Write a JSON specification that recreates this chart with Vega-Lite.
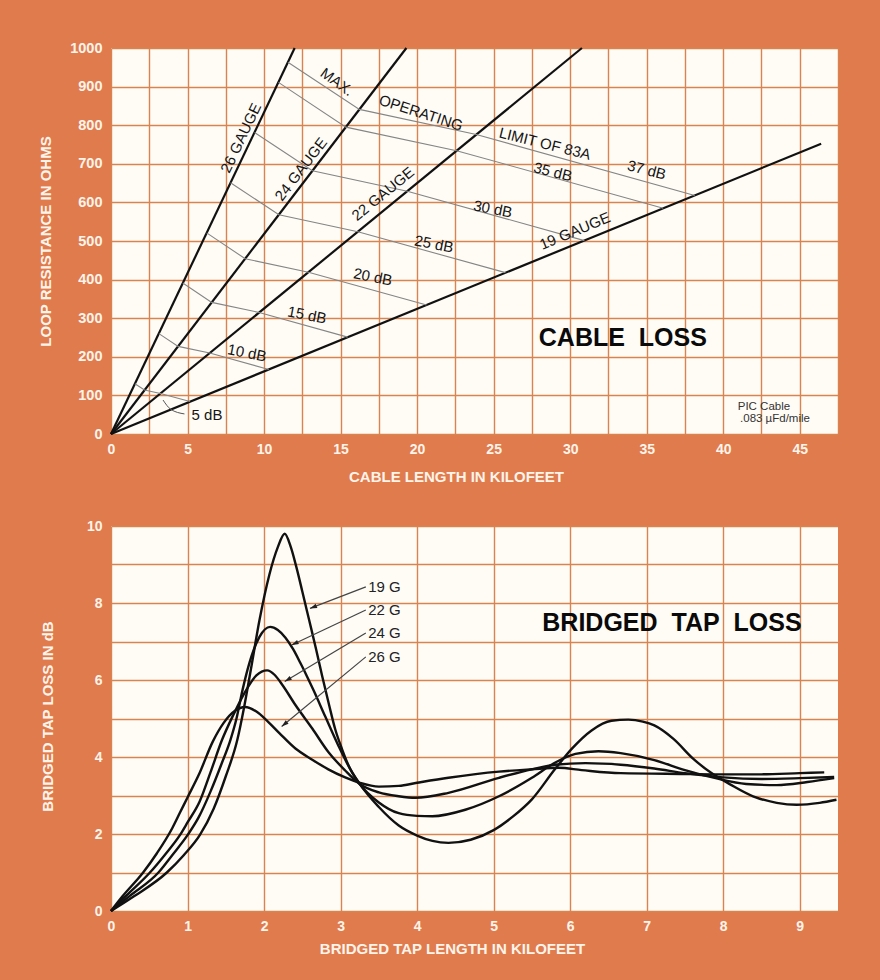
{
  "$schema": "https://vega.github.io/schema/vega-lite/v6.json",
  "background": "#DF7B4D",
  "padding": {"left": 38, "top": 40, "right": 42, "bottom": 24},
  "spacing": 35,
  "config": {
    "view": {"fill": "#FFFCF6", "stroke": null},
    "axis": {
      "grid": true, "gridColor": "#D9834F", "gridWidth": 1.4, "gridOpacity": 1,
      "domain": false, "ticks": false, "tickSize": 0,
      "labelColor": "#FFF4EA", "labelFont": "Liberation Sans", "labelFontWeight": "bold", "labelFontSize": 14,
      "titleColor": "#FFF4EA", "titleFont": "Liberation Sans", "titleFontWeight": "bold", "titleFontSize": 15,
      "labelFlush": false, "labelSeparation": 0, "labelOverlap": false
    },
    "axisY": {"labelOverlap": false},
    "axisQuantitative": {"labelOverlap": false},
    "text": {"font": "Liberation Sans", "color": "#151515"}
  },
  "datasets": {
    "gauges": [
      {"gauge": "26", "kft": 0, "ohms": 0}, {"gauge": "26", "kft": 12.0, "ohms": 1000},
      {"gauge": "24", "kft": 0, "ohms": 0}, {"gauge": "24", "kft": 19.3, "ohms": 1000},
      {"gauge": "22", "kft": 0, "ohms": 0}, {"gauge": "22", "kft": 30.77, "ohms": 1000},
      {"gauge": "19", "kft": 0, "ohms": 0}, {"gauge": "19", "kft": 46.4, "ohms": 752}
    ],
    "contours": [
      {"dB": 5, "kft": 1.56, "ohms": 130}, {"dB": 5, "kft": 2.19, "ohms": 114}, {"dB": 5, "kft": 3.23, "ohms": 105}, {"dB": 5, "kft": 5.16, "ohms": 84},
      {"dB": 10, "kft": 3.13, "ohms": 260}, {"dB": 10, "kft": 4.39, "ohms": 227}, {"dB": 10, "kft": 6.45, "ohms": 210}, {"dB": 10, "kft": 10.31, "ohms": 167},
      {"dB": 15, "kft": 4.69, "ohms": 391}, {"dB": 15, "kft": 6.58, "ohms": 341}, {"dB": 15, "kft": 9.68, "ohms": 315}, {"dB": 15, "kft": 15.46, "ohms": 251},
      {"dB": 20, "kft": 6.25, "ohms": 521}, {"dB": 20, "kft": 8.77, "ohms": 454}, {"dB": 20, "kft": 12.9, "ohms": 419}, {"dB": 20, "kft": 20.62, "ohms": 334},
      {"dB": 25, "kft": 7.81, "ohms": 651}, {"dB": 25, "kft": 10.97, "ohms": 568}, {"dB": 25, "kft": 16.13, "ohms": 524}, {"dB": 25, "kft": 25.77, "ohms": 418},
      {"dB": 30, "kft": 9.38, "ohms": 781}, {"dB": 30, "kft": 13.16, "ohms": 682}, {"dB": 30, "kft": 19.36, "ohms": 629}, {"dB": 30, "kft": 30.93, "ohms": 501},
      {"dB": 35, "kft": 10.94, "ohms": 911}, {"dB": 35, "kft": 15.35, "ohms": 795}, {"dB": 35, "kft": 22.58, "ohms": 734}, {"dB": 35, "kft": 36.08, "ohms": 585},
      {"dB": 37, "kft": 11.56, "ohms": 963}, {"dB": 37, "kft": 16.23, "ohms": 841}, {"dB": 37, "kft": 23.87, "ohms": 776}, {"dB": 37, "kft": 38.14, "ohms": 618}
    ],
    "leader": [
      {"kft": 3.4, "ohms": 88}, {"kft": 3.9, "ohms": 64}, {"kft": 4.8, "ohms": 52}
    ],
    "toplabels": [
      {"label": "26 GAUGE", "kft": 8.49, "ohms": 767},
      {"label": "24 GAUGE", "kft": 12.41, "ohms": 686},
      {"label": "22 GAUGE", "kft": 17.77, "ohms": 622},
      {"label": "19 GAUGE", "kft": 30.31, "ohms": 526},
      {"label": "MAX.", "kft": 14.76, "ohms": 912},
      {"label": "OPERATING", "kft": 20.25, "ohms": 832},
      {"label": "LIMIT OF 83A", "kft": 28.35, "ohms": 752},
      {"label": "37 dB", "kft": 35.0, "ohms": 684},
      {"label": "35 dB", "kft": 28.87, "ohms": 679},
      {"label": "30 dB", "kft": 24.95, "ohms": 583},
      {"label": "25 dB", "kft": 21.1, "ohms": 492},
      {"label": "20 dB", "kft": 17.11, "ohms": 407},
      {"label": "15 dB", "kft": 12.8, "ohms": 308},
      {"label": "10 dB", "kft": 8.88, "ohms": 210},
      {"label": "5 dB", "kft": 6.27, "ohms": 49}
    ],
    "topnotes": [
      {"label": "PIC Cable", "kft": 40.95, "ohms": 70},
      {"label": ".083 µFd/mile", "kft": 41.1, "ohms": 39}
    ],
    "toptitle": [{"label": "CABLE\u00a0\u00a0LOSS", "kft": 33.44, "ohms": 249}],
    "taps": [
      {"gauge": "19 G", "kft": 0, "dB": 0}, {"gauge": "19 G", "kft": 0.3, "dB": 0.38}, {"gauge": "19 G", "kft": 0.73, "dB": 1.0}, {"gauge": "19 G", "kft": 0.95, "dB": 1.45}, {"gauge": "19 G", "kft": 1.16, "dB": 1.97}, {"gauge": "19 G", "kft": 1.34, "dB": 2.65}, {"gauge": "19 G", "kft": 1.5, "dB": 3.5}, {"gauge": "19 G", "kft": 1.65, "dB": 4.44}, {"gauge": "19 G", "kft": 1.74, "dB": 5.3}, {"gauge": "19 G", "kft": 1.83, "dB": 6.3}, {"gauge": "19 G", "kft": 1.94, "dB": 7.55}, {"gauge": "19 G", "kft": 2.07, "dB": 8.74}, {"gauge": "19 G", "kft": 2.18, "dB": 9.45}, {"gauge": "19 G", "kft": 2.27, "dB": 9.8}, {"gauge": "19 G", "kft": 2.35, "dB": 9.45}, {"gauge": "19 G", "kft": 2.42, "dB": 8.95}, {"gauge": "19 G", "kft": 2.5, "dB": 8.3}, {"gauge": "19 G", "kft": 2.59, "dB": 7.55}, {"gauge": "19 G", "kft": 2.68, "dB": 6.8}, {"gauge": "19 G", "kft": 2.76, "dB": 6.1}, {"gauge": "19 G", "kft": 2.85, "dB": 5.35}, {"gauge": "19 G", "kft": 2.93, "dB": 4.72}, {"gauge": "19 G", "kft": 3.02, "dB": 4.2}, {"gauge": "19 G", "kft": 3.1, "dB": 3.8}, {"gauge": "19 G", "kft": 3.25, "dB": 3.3}, {"gauge": "19 G", "kft": 3.5, "dB": 2.7}, {"gauge": "19 G", "kft": 3.76, "dB": 2.22}, {"gauge": "19 G", "kft": 4.0, "dB": 1.96}, {"gauge": "19 G", "kft": 4.2, "dB": 1.82}, {"gauge": "19 G", "kft": 4.41, "dB": 1.77}, {"gauge": "19 G", "kft": 4.7, "dB": 1.85}, {"gauge": "19 G", "kft": 5.0, "dB": 2.1}, {"gauge": "19 G", "kft": 5.25, "dB": 2.45}, {"gauge": "19 G", "kft": 5.5, "dB": 2.9}, {"gauge": "19 G", "kft": 5.8, "dB": 3.68}, {"gauge": "19 G", "kft": 6.02, "dB": 4.21}, {"gauge": "19 G", "kft": 6.28, "dB": 4.69}, {"gauge": "19 G", "kft": 6.54, "dB": 4.94}, {"gauge": "19 G", "kft": 6.76, "dB": 4.97}, {"gauge": "19 G", "kft": 6.95, "dB": 4.92}, {"gauge": "19 G", "kft": 7.1, "dB": 4.82}, {"gauge": "19 G", "kft": 7.35, "dB": 4.47}, {"gauge": "19 G", "kft": 7.61, "dB": 3.95}, {"gauge": "19 G", "kft": 7.87, "dB": 3.55}, {"gauge": "19 G", "kft": 8.09, "dB": 3.29}, {"gauge": "19 G", "kft": 8.39, "dB": 2.98}, {"gauge": "19 G", "kft": 8.7, "dB": 2.81}, {"gauge": "19 G", "kft": 8.96, "dB": 2.76}, {"gauge": "19 G", "kft": 9.26, "dB": 2.81}, {"gauge": "19 G", "kft": 9.48, "dB": 2.89},
      {"gauge": "22 G", "kft": 0, "dB": 0}, {"gauge": "22 G", "kft": 0.25, "dB": 0.4}, {"gauge": "22 G", "kft": 0.62, "dB": 1.0}, {"gauge": "22 G", "kft": 0.8, "dB": 1.45}, {"gauge": "22 G", "kft": 1.0, "dB": 1.97}, {"gauge": "22 G", "kft": 1.15, "dB": 2.45}, {"gauge": "22 G", "kft": 1.3, "dB": 3.1}, {"gauge": "22 G", "kft": 1.45, "dB": 3.85}, {"gauge": "22 G", "kft": 1.56, "dB": 4.44}, {"gauge": "22 G", "kft": 1.64, "dB": 5.0}, {"gauge": "22 G", "kft": 1.72, "dB": 5.75}, {"gauge": "22 G", "kft": 1.81, "dB": 6.45}, {"gauge": "22 G", "kft": 1.94, "dB": 7.12}, {"gauge": "22 G", "kft": 2.08, "dB": 7.38}, {"gauge": "22 G", "kft": 2.18, "dB": 7.3}, {"gauge": "22 G", "kft": 2.28, "dB": 7.1}, {"gauge": "22 G", "kft": 2.38, "dB": 6.8}, {"gauge": "22 G", "kft": 2.48, "dB": 6.42}, {"gauge": "22 G", "kft": 2.56, "dB": 6.1}, {"gauge": "22 G", "kft": 2.65, "dB": 5.72}, {"gauge": "22 G", "kft": 2.8, "dB": 5.05}, {"gauge": "22 G", "kft": 2.97, "dB": 4.3}, {"gauge": "22 G", "kft": 3.15, "dB": 3.6}, {"gauge": "22 G", "kft": 3.25, "dB": 3.3}, {"gauge": "22 G", "kft": 3.5, "dB": 2.82}, {"gauge": "22 G", "kft": 3.76, "dB": 2.54}, {"gauge": "22 G", "kft": 4.0, "dB": 2.47}, {"gauge": "22 G", "kft": 4.2, "dB": 2.46}, {"gauge": "22 G", "kft": 4.63, "dB": 2.63}, {"gauge": "22 G", "kft": 5.07, "dB": 2.98}, {"gauge": "22 G", "kft": 5.5, "dB": 3.46}, {"gauge": "22 G", "kft": 5.8, "dB": 3.85}, {"gauge": "22 G", "kft": 6.07, "dB": 4.08}, {"gauge": "22 G", "kft": 6.37, "dB": 4.15}, {"gauge": "22 G", "kft": 6.66, "dB": 4.1}, {"gauge": "22 G", "kft": 7.1, "dB": 3.92}, {"gauge": "22 G", "kft": 7.5, "dB": 3.66}, {"gauge": "22 G", "kft": 7.9, "dB": 3.45}, {"gauge": "22 G", "kft": 8.3, "dB": 3.3}, {"gauge": "22 G", "kft": 8.7, "dB": 3.27}, {"gauge": "22 G", "kft": 9.1, "dB": 3.35}, {"gauge": "22 G", "kft": 9.45, "dB": 3.45},
      {"gauge": "24 G", "kft": 0, "dB": 0}, {"gauge": "24 G", "kft": 0.2, "dB": 0.4}, {"gauge": "24 G", "kft": 0.5, "dB": 0.98}, {"gauge": "24 G", "kft": 0.7, "dB": 1.45}, {"gauge": "24 G", "kft": 0.9, "dB": 1.97}, {"gauge": "24 G", "kft": 1.0, "dB": 2.3}, {"gauge": "24 G", "kft": 1.16, "dB": 2.85}, {"gauge": "24 G", "kft": 1.3, "dB": 3.6}, {"gauge": "24 G", "kft": 1.45, "dB": 4.44}, {"gauge": "24 G", "kft": 1.6, "dB": 5.1}, {"gauge": "24 G", "kft": 1.77, "dB": 5.75}, {"gauge": "24 G", "kft": 1.9, "dB": 6.12}, {"gauge": "24 G", "kft": 2.04, "dB": 6.25}, {"gauge": "24 G", "kft": 2.14, "dB": 6.13}, {"gauge": "24 G", "kft": 2.24, "dB": 5.87}, {"gauge": "24 G", "kft": 2.41, "dB": 5.35}, {"gauge": "24 G", "kft": 2.63, "dB": 4.74}, {"gauge": "24 G", "kft": 2.84, "dB": 4.13}, {"gauge": "24 G", "kft": 3.06, "dB": 3.65}, {"gauge": "24 G", "kft": 3.25, "dB": 3.3}, {"gauge": "24 G", "kft": 3.5, "dB": 3.08}, {"gauge": "24 G", "kft": 3.76, "dB": 2.98}, {"gauge": "24 G", "kft": 3.98, "dB": 2.94}, {"gauge": "24 G", "kft": 4.41, "dB": 3.07}, {"gauge": "24 G", "kft": 5.07, "dB": 3.46}, {"gauge": "24 G", "kft": 5.5, "dB": 3.68}, {"gauge": "24 G", "kft": 5.8, "dB": 3.8}, {"gauge": "24 G", "kft": 6.2, "dB": 3.84}, {"gauge": "24 G", "kft": 6.66, "dB": 3.8}, {"gauge": "24 G", "kft": 7.1, "dB": 3.7}, {"gauge": "24 G", "kft": 7.5, "dB": 3.58}, {"gauge": "24 G", "kft": 8.0, "dB": 3.47}, {"gauge": "24 G", "kft": 8.5, "dB": 3.43}, {"gauge": "24 G", "kft": 9.0, "dB": 3.45}, {"gauge": "24 G", "kft": 9.45, "dB": 3.48},
      {"gauge": "26 G", "kft": 0, "dB": 0}, {"gauge": "26 G", "kft": 0.15, "dB": 0.38}, {"gauge": "26 G", "kft": 0.42, "dB": 1.0}, {"gauge": "26 G", "kft": 0.6, "dB": 1.5}, {"gauge": "26 G", "kft": 0.8, "dB": 2.15}, {"gauge": "26 G", "kft": 0.9, "dB": 2.55}, {"gauge": "26 G", "kft": 1.0, "dB": 2.95}, {"gauge": "26 G", "kft": 1.15, "dB": 3.55}, {"gauge": "26 G", "kft": 1.33, "dB": 4.4}, {"gauge": "26 G", "kft": 1.47, "dB": 4.88}, {"gauge": "26 G", "kft": 1.62, "dB": 5.2}, {"gauge": "26 G", "kft": 1.75, "dB": 5.3}, {"gauge": "26 G", "kft": 1.9, "dB": 5.18}, {"gauge": "26 G", "kft": 2.05, "dB": 4.92}, {"gauge": "26 G", "kft": 2.2, "dB": 4.62}, {"gauge": "26 G", "kft": 2.41, "dB": 4.22}, {"gauge": "26 G", "kft": 2.63, "dB": 3.93}, {"gauge": "26 G", "kft": 2.84, "dB": 3.68}, {"gauge": "26 G", "kft": 3.06, "dB": 3.47}, {"gauge": "26 G", "kft": 3.25, "dB": 3.33}, {"gauge": "26 G", "kft": 3.5, "dB": 3.23}, {"gauge": "26 G", "kft": 3.76, "dB": 3.25}, {"gauge": "26 G", "kft": 4.0, "dB": 3.33}, {"gauge": "26 G", "kft": 4.41, "dB": 3.46}, {"gauge": "26 G", "kft": 5.07, "dB": 3.62}, {"gauge": "26 G", "kft": 5.5, "dB": 3.68}, {"gauge": "26 G", "kft": 5.85, "dB": 3.72}, {"gauge": "26 G", "kft": 6.15, "dB": 3.66}, {"gauge": "26 G", "kft": 6.66, "dB": 3.58}, {"gauge": "26 G", "kft": 7.5, "dB": 3.56}, {"gauge": "26 G", "kft": 8.0, "dB": 3.55}, {"gauge": "26 G", "kft": 8.5, "dB": 3.55}, {"gauge": "26 G", "kft": 9.0, "dB": 3.58}, {"gauge": "26 G", "kft": 9.32, "dB": 3.6}
    ],
    "tapnames": [
      {"gauge": "19 G", "kft": 3.36, "dB": 8.42},
      {"gauge": "22 G", "kft": 3.36, "dB": 7.82},
      {"gauge": "24 G", "kft": 3.36, "dB": 7.22},
      {"gauge": "26 G", "kft": 3.36, "dB": 6.6}
    ],
    "pointers": [
      {"gauge": "19 G", "kft": 3.33, "dB": 8.42}, {"gauge": "19 G", "kft": 2.6, "dB": 7.86},
      {"gauge": "22 G", "kft": 3.33, "dB": 7.82}, {"gauge": "22 G", "kft": 2.36, "dB": 6.91},
      {"gauge": "24 G", "kft": 3.33, "dB": 7.22}, {"gauge": "24 G", "kft": 2.27, "dB": 5.96},
      {"gauge": "26 G", "kft": 3.33, "dB": 6.6}, {"gauge": "26 G", "kft": 2.23, "dB": 4.79}
    ],
    "tips": [
      {"gauge": "19 G", "kft": 2.6, "dB": 7.86},
      {"gauge": "22 G", "kft": 2.36, "dB": 6.91},
      {"gauge": "24 G", "kft": 2.27, "dB": 5.96},
      {"gauge": "26 G", "kft": 2.23, "dB": 4.79}
    ],
    "bottomtitle": [{"label": "BRIDGED\u00a0\u00a0TAP\u00a0\u00a0LOSS", "kft": 7.33, "dB": 7.48}]
  },
  "vconcat": [
    {
      "width": 727,
      "height": 386,
      "encoding": {
        "x": {"field": "kft", "type": "quantitative",
          "scale": {"domain": [0, 47.5], "nice": false, "zero": false},
          "axis": {"values": [0, 2.5, 5, 7.5, 10, 12.5, 15, 17.5, 20, 22.5, 25, 27.5, 30, 32.5, 35, 37.5, 40, 42.5, 45, 47.5],
            "format": "d",
            "labelExpr": "datum.value % 5 === 0 ? datum.label : ''",
            "labelPadding": 8, "labelOverlap": false,
            "title": "CABLE LENGTH IN KILOFEET", "titleX": 345, "titleY": 42, "titleAlign": "center", "titleBaseline": "middle"}},
        "y": {"field": "ohms", "type": "quantitative",
          "scale": {"domain": [0, 1000], "nice": false, "zero": false},
          "axis": {"values": [0, 100, 200, 300, 400, 500, 600, 700, 800, 900, 1000],
            "format": "d",
            "labelPadding": 9, "labelOverlap": false, "labelFontSize": 14.5,
            "title": "LOOP RESISTANCE IN OHMS", "titleX": -66, "titleY": 193, "titleAngle": 270, "titleAlign": "center", "titleBaseline": "middle"}}
      },
      "layer": [
        {
          "data": {"name": "gauges"},
          "mark": {"type": "line", "color": "#111111", "strokeWidth": 2.2},
          "encoding": {"detail": {"field": "gauge", "type": "nominal"}}
        },
        {
          "data": {"name": "contours"},
          "mark": {"type": "line", "color": "#858585", "strokeWidth": 1.1},
          "encoding": {"detail": {"field": "dB", "type": "nominal"}}
        },
        {
          "data": {"name": "leader"},
          "mark": {"type": "line", "color": "#555555", "strokeWidth": 1, "interpolate": "monotone"},
          "encoding": {}
        },
        {
          "data": {"name": "toplabels"},
          "transform": [{"filter": {"field": "label", "equal": "26 GAUGE"}}],
          "mark": {"type": "text", "angle": 295.5, "fontSize": 15},
          "encoding": {"text": {"field": "label"}}
        },
        {
          "data": {"name": "toplabels"},
          "transform": [{"filter": {"field": "label", "equal": "24 GAUGE"}}],
          "mark": {"type": "text", "angle": 307.5, "fontSize": 15},
          "encoding": {"text": {"field": "label"}}
        },
        {
          "data": {"name": "toplabels"},
          "transform": [{"filter": {"field": "label", "equal": "22 GAUGE"}}],
          "mark": {"type": "text", "angle": 320.7, "fontSize": 15},
          "encoding": {"text": {"field": "label"}}
        },
        {
          "data": {"name": "toplabels"},
          "transform": [{"filter": {"field": "label", "equal": "19 GAUGE"}}],
          "mark": {"type": "text", "angle": 337.5, "fontSize": 15},
          "encoding": {"text": {"field": "label"}}
        },
        {
          "data": {"name": "toplabels"},
          "transform": [{"filter": {"field": "label", "equal": "MAX."}}],
          "mark": {"type": "text", "angle": 36, "fontSize": 15},
          "encoding": {"text": {"field": "label"}}
        },
        {
          "data": {"name": "toplabels"},
          "transform": [{"filter": {"field": "label", "equal": "OPERATING"}}],
          "mark": {"type": "text", "angle": 18, "fontSize": 15},
          "encoding": {"text": {"field": "label"}}
        },
        {
          "data": {"name": "toplabels"},
          "transform": [{"filter": {"field": "label", "oneOf": ["LIMIT OF 83A", "37 dB", "35 dB"]}}],
          "mark": {"type": "text", "angle": 14, "fontSize": 15},
          "encoding": {"text": {"field": "label"}}
        },
        {
          "data": {"name": "toplabels"},
          "transform": [{"filter": {"field": "label", "oneOf": ["30 dB", "25 dB", "20 dB", "15 dB", "10 dB"]}}],
          "mark": {"type": "text", "angle": 11, "fontSize": 15},
          "encoding": {"text": {"field": "label"}}
        },
        {
          "data": {"name": "toplabels"},
          "transform": [{"filter": {"field": "label", "equal": "5 dB"}}],
          "mark": {"type": "text", "fontSize": 15},
          "encoding": {"text": {"field": "label"}}
        },
        {
          "data": {"name": "topnotes"},
          "mark": {"type": "text", "fontSize": 11.5, "align": "left", "color": "#333333"},
          "encoding": {"text": {"field": "label"}}
        },
        {
          "data": {"name": "toptitle"},
          "mark": {"type": "text", "fontSize": 25, "fontWeight": "bold", "color": "#0a0a0a"},
          "encoding": {"text": {"field": "label"}}
        }
      ]
    },
    {
      "width": 727,
      "height": 385,
      "encoding": {
        "x": {"field": "kft", "type": "quantitative",
          "scale": {"domain": [0, 9.5], "nice": false, "zero": false},
          "axis": {"values": [0, 0.5, 1, 1.5, 2, 2.5, 3, 3.5, 4, 4.5, 5, 5.5, 6, 6.5, 7, 7.5, 8, 8.5, 9, 9.5],
            "format": "d",
            "labelExpr": "datum.value % 1 === 0 ? datum.label : ''",
            "labelPadding": 8, "labelOverlap": false,
            "title": "BRIDGED TAP LENGTH IN KILOFEET", "titleX": 341, "titleY": 37, "titleAlign": "center", "titleBaseline": "middle"}},
        "y": {"field": "dB", "type": "quantitative",
          "scale": {"domain": [0, 10], "nice": false, "zero": false},
          "axis": {"values": [0, 1, 2, 3, 4, 5, 6, 7, 8, 9, 10],
            "format": "d",
            "labelExpr": "datum.value % 2 === 0 ? datum.label : ''",
            "labelPadding": 9, "labelOverlap": false,
            "title": "BRIDGED TAP LOSS IN dB", "titleX": -64, "titleY": 190, "titleAngle": 270, "titleAlign": "center", "titleBaseline": "middle"}}
      },
      "layer": [
        {
          "data": {"name": "taps"},
          "mark": {"type": "line", "color": "#111111", "strokeWidth": 2.4, "interpolate": "monotone"},
          "encoding": {"detail": {"field": "gauge", "type": "nominal"}}
        },
        {
          "data": {"name": "pointers"},
          "mark": {"type": "line", "color": "#444444", "strokeWidth": 1.2},
          "encoding": {"detail": {"field": "gauge", "type": "nominal"}}
        },
        {
          "data": {"name": "tips"},
          "transform": [{"filter": {"field": "gauge", "equal": "19 G"}}],
          "mark": {"type": "point", "shape": "M0,0L0.32,1L-0.32,1Z", "filled": true, "color": "#222222", "size": 200, "angle": 248.5, "opacity": 1}
        },
        {
          "data": {"name": "tips"},
          "transform": [{"filter": {"field": "gauge", "equal": "22 G"}}],
          "mark": {"type": "point", "shape": "M0,0L0.32,1L-0.32,1Z", "filled": true, "color": "#222222", "size": 200, "angle": 245, "opacity": 1}
        },
        {
          "data": {"name": "tips"},
          "transform": [{"filter": {"field": "gauge", "equal": "24 G"}}],
          "mark": {"type": "point", "shape": "M0,0L0.32,1L-0.32,1Z", "filled": true, "color": "#222222", "size": 200, "angle": 239, "opacity": 1}
        },
        {
          "data": {"name": "tips"},
          "transform": [{"filter": {"field": "gauge", "equal": "26 G"}}],
          "mark": {"type": "point", "shape": "M0,0L0.32,1L-0.32,1Z", "filled": true, "color": "#222222", "size": 200, "angle": 230.5, "opacity": 1}
        },
        {
          "data": {"name": "tapnames"},
          "mark": {"type": "text", "fontSize": 15, "align": "left", "color": "#222222"},
          "encoding": {"text": {"field": "gauge"}}
        },
        {
          "data": {"name": "bottomtitle"},
          "mark": {"type": "text", "fontSize": 25, "fontWeight": "bold", "color": "#0a0a0a"},
          "encoding": {"text": {"field": "label"}}
        }
      ]
    }
  ]
}
